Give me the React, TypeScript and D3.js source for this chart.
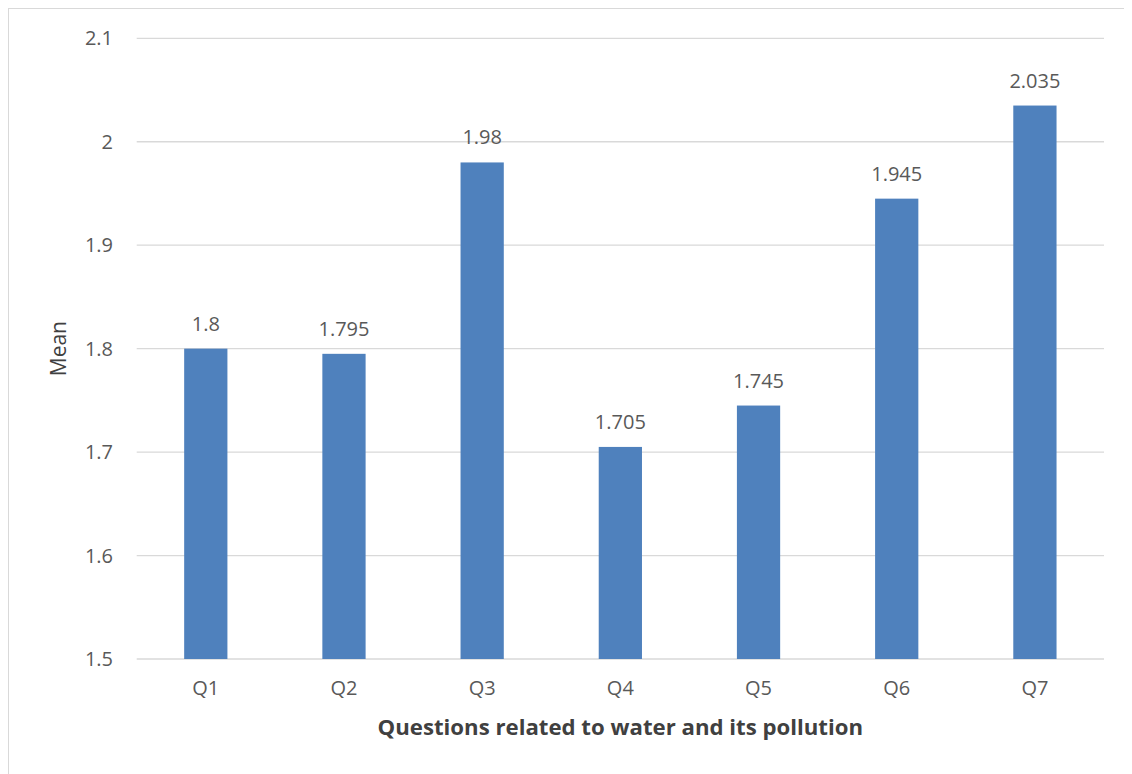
import React from "react";
import * as d3 from "d3";

const categories = ["Q1", "Q2", "Q3", "Q4", "Q5", "Q6", "Q7"];
const values = [1.8, 1.795, 1.98, 1.705, 1.745, 1.945, 2.035];
const yTicks = [1.5, 1.6, 1.7, 1.8, 1.9, 2.0, 2.1];
const xTitle = "Questions related to water and its pollution";
const yTitle = "Mean";

export default function App() {
  const W = 1124;
  const H = 766;
  // offsets inside svg (svg sits at 8,8 due to body margin)
  const left = 128.7;
  const right = 1096;
  const top = 30.3;
  const bottom = 651;
  const x = d3.scaleBand<string>().domain(categories).range([left, right]).paddingInner(0.687).paddingOuter(0.3435);
  const y = d3.scaleLinear().domain([1.5, 2.1]).range([bottom, top]);
  const font = "'Open Sans', 'Liberation Sans', sans-serif";
  const txt = "#595959";
  return (
    <svg width={W} height={H} style={{ display: "block" }} fontFamily={font}>
      <rect x={0.5} y={0.5} width={W + 20} height={H + 20} fill="#fff" stroke="#d9d9d9" strokeWidth={1} />
      {yTicks.map((t) => (
        <g key={t}>
          <line x1={left} x2={right} y1={y(t)} y2={y(t)} stroke="#d9d9d9" strokeWidth={1.3} />
          <text x={105} y={y(t)} dy="0.35em" textAnchor="end" fontSize={20} fill={txt}>
            {d3.format("~g")(t)}
          </text>
        </g>
      ))}
      {categories.map((c, i) => (
        <g key={c}>
          <rect x={x(c)} y={y(values[i])} width={x.bandwidth()} height={y(1.5) - y(values[i])} fill="#4f81bd" />
          <text x={x(c)! + x.bandwidth() / 2} y={y(values[i]) - 18} textAnchor="middle" fontSize={20} fill={txt}>
            {d3.format("~g")(values[i])}
          </text>
          <text x={x(c)! + x.bandwidth() / 2} y={bottom + 36} textAnchor="middle" fontSize={20} fill={txt}>
            {c}
          </text>
        </g>
      ))}
      <text x={(left + right) / 2} y={727} textAnchor="middle" fontSize={22.2} fontWeight="bold" fill="#404040">
        {xTitle}
      </text>
      <text transform={`translate(58,${(top + bottom) / 2}) rotate(-90)`} textAnchor="middle" fontSize={21} fill="#404040">
        {yTitle}
      </text>
    </svg>
  );
}
